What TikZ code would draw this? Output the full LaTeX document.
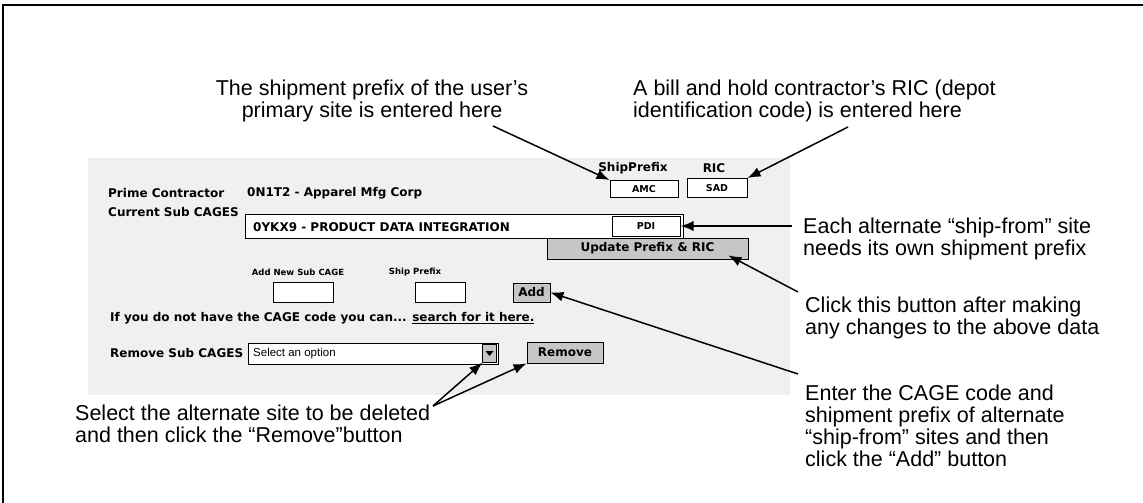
\documentclass[tikz,border=0pt]{standalone}
\usepackage{fontspec}
\setmainfont{Liberation Sans}
\newfontfamily\uifont{DejaVu Sans}
\usetikzlibrary{arrows.meta}
\tikzset{
    note/.style = {
        anchor = north west,
        align = left,
        inner sep = 0pt,
        font = \fontsize{21.5}{22}\selectfont,
        },
    ui label/.style = {
        anchor = west,
        inner sep = 0pt,
        font = \uifont\bfseries\fontsize{12}{13}\selectfont,
        },
    ui small/.style = {
        inner sep = 0pt,
        font = \uifont\bfseries\fontsize{8.5}{10}\selectfont,
        },
    uifield/.style = {
        draw,
        line width = 1pt,
        fill = white,
        inner sep = 0pt,
        },
    uibutton/.style = {
        draw,
        line width = 0.8pt,
        fill = gray!45,
        inner sep = 0pt,
        font = \uifont\bfseries\fontsize{12}{13}\selectfont,
        },
    pointer/.style = {
        -{Latex[length=13pt,width=10pt]},
        line width = 1.5pt,
        },
}

\begin{document}
\begin{tikzpicture}[x=1pt,y=-1pt]
    \useasboundingbox (0,0) rectangle (1143,503);
    % frame of the page
    \draw[line width=2pt] (3,503) -- (3,5) -- (1143,5);
    % screen shot area
    \fill[gray!12] (88,158) rectangle (790,395);

    \node[ui small, font=\uifont\bfseries\fontsize{12}{13}\selectfont] (shiplbl) at (633,168) {ShipPrefix};
    \node[ui small, font=\uifont\bfseries\fontsize{12}{13}\selectfont] (riclbl) at (714,168) {RIC};
    \node[ui label] (prime) at (108,193) {Prime Contractor};
    \node[ui label] (primeval) at (247,193) {0N1T2 - Apparel Mfg Corp};
    \node[uifield, minimum width=68pt, minimum height=17pt, font=\uifont\bfseries\fontsize{9.5}{10}\selectfont] (amc) at (644,189) {AMC};
    \node[uifield, minimum width=60pt, minimum height=19pt, font=\uifont\bfseries\fontsize{9.5}{10}\selectfont] (sad) at (717,188) {SAD};

    \node[ui label] (current) at (108,212) {Current Sub CAGES};
    \node[uifield, minimum width=438pt, minimum height=24pt] (subcages) at (464,226) {};
    \node[ui label] (subval) at (253,227) {0YKX9 - PRODUCT DATA INTEGRATION};
    \node[uifield, minimum width=68pt, minimum height=20pt, font=\uifont\bfseries\fontsize{9.5}{10}\selectfont] (pdi) at (646,226) {PDI};

    \node[uibutton, minimum width=201pt, minimum height=21pt] (update) at (647.5,248.5) {Update Prefix \& RIC};

    \node[ui small] (newlbl) at (298,272) {Add New Sub CAGE};
    \node[ui small] (prefixlbl) at (415,272) {Ship Prefix};
    \node[uifield, minimum width=60pt, minimum height=20pt] (newcage) at (303,292) {};
    \node[uifield, minimum width=50pt, minimum height=20pt] (newprefix) at (440,292) {};
    \node[uibutton, minimum width=37pt, minimum height=19pt] (add) at (531.5,292.5) {Add};

    \node[ui label] (search) at (110,318) {If you do not have the CAGE code you can... \underline{search for it here.}};

    \node[ui label] (remlbl) at (110,353) {Remove Sub CAGES};
    \node[uifield, minimum width=250pt, minimum height=21pt] (dropdown) at (373,353.5) {};
    \node[anchor=west, inner sep=0pt, font=\fontsize{11.5}{13}\selectfont] (option) at (253,353.5) {Select an option};
    \node[draw, fill=gray!45, minimum width=14pt, minimum height=18pt, inner sep=0pt] (droparrow) at (489.5,353.5) {};
    \fill (485.5,351) -- (493.5,351) -- (489.5,356) -- cycle;
    \node[uibutton, minimum width=76pt, minimum height=21pt] (remove) at (565,352.5) {Remove};

    % callouts
    \node[note, anchor=north, align=center] (shipnote) at (372,80) {The shipment prefix of the user’s\\primary site is entered here};
    \node[note] (ricnote) at (633,80) {A bill and hold contractor’s RIC (depot\\identification code) is entered here};
    \node[note] (eachnote) at (803,218) {Each alternate “ship-from” site\\needs its own shipment prefix};
    \node[note] (clicknote) at (805,297) {Click this button after making\\any changes to the above data};
    \node[note] (enternote) at (805,385) {Enter the CAGE code and\\shipment prefix of alternate\\“ship-from” sites and then\\click the “Add” button};
    \node[note] (selectnote) at (75,405) {Select the alternate site to be deleted\\and then click the “Remove”button};

    \coordinate (shipfrom) at (493,126);
    \coordinate (ricfrom) at (848,127);
    \coordinate (eachfrom) at (792,226);
    \coordinate (clickfrom) at (798,292);
    \coordinate (enterfrom) at (798,374);
    \coordinate (selectfrom) at (433,406);

    \draw[pointer] (shipfrom) -- (amc.north west);
    \draw[pointer] (ricfrom) -- (sad.north east);
    \draw[pointer] (eachfrom) -- (pdi.east |- eachfrom);
    \draw[pointer] (clickfrom) -- ([xshift=-20pt,yshift=4pt]update.south east);
    \draw[pointer] (enterfrom) -- (add.east);
    \draw[pointer] (selectfrom) -- (droparrow.south west);
    \draw[pointer] (selectfrom) -- (remove.south west);
\end{tikzpicture}
\end{document}
